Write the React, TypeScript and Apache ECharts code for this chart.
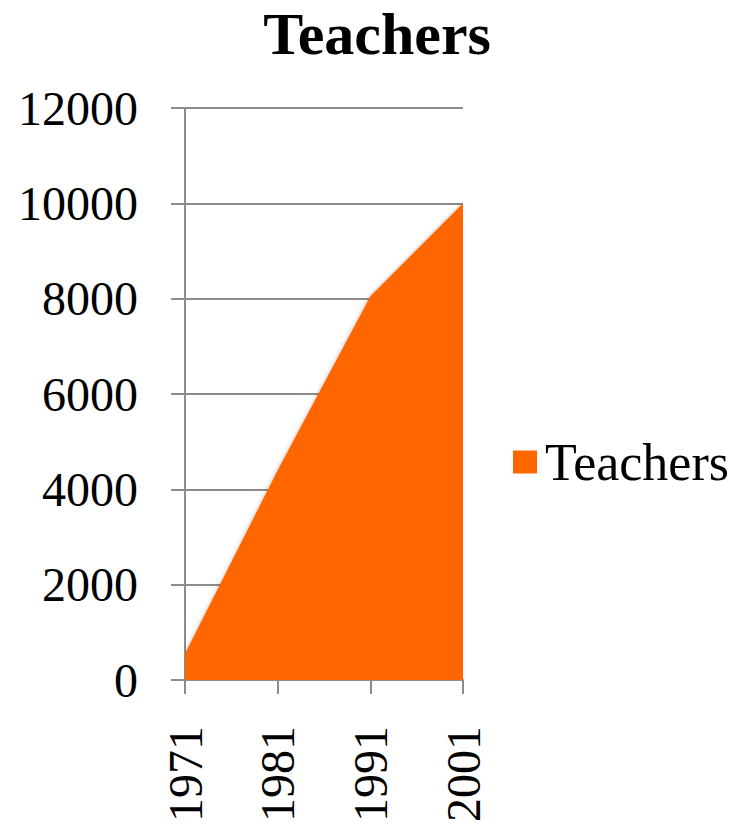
import React, { useEffect, useRef } from "react";
import * as echarts from "echarts";

const categories = ["1971", "1981", "1991", "2001"];
const teachers = [550, 4400, 8050, 10000];
const seriesName = "Teachers";
const chartTitle = "Teachers";

export default function App() {
  const ref = useRef<HTMLDivElement>(null);
  useEffect(() => {
    if (!ref.current) return;
    const chart = echarts.init(ref.current, null, { renderer: "svg" });
    const font = "'Liberation Serif', 'Times New Roman', serif";
    chart.setOption({
      animation: false,
      backgroundColor: "#ffffff",
      title: {
        text: chartTitle,
        left: 372,
        top: -1,
        textAlign: "center",
        textStyle: { fontFamily: font, fontSize: 60, fontWeight: "bold", color: "#000" },
      },
      legend: {
        data: [seriesName],
        left: 508,
        top: 431,
        itemWidth: 24,
        itemHeight: 23,
        itemGap: 10,
        icon: "rect",
        textStyle: { fontFamily: font, fontSize: 52, color: "#000", padding: [0, 0, 0, 3] },
      },
      grid: { left: 185, right: 281, top: 108, bottom: 142, containLabel: false },
      xAxis: {
        type: "category",
        data: categories,
        boundaryGap: false,
        axisLine: { show: true, lineStyle: { color: "#8c8c8c", width: 2 } },
        axisTick: { show: true, alignWithLabel: true, length: 14, lineStyle: { color: "#8c8c8c", width: 2 } },
        axisLabel: { rotate: 90, margin: 46, fontFamily: font, fontSize: 48, color: "#000" },
        splitLine: { show: false },
      },
      yAxis: {
        type: "value",
        min: 0,
        max: 12000,
        interval: 2000,
        axisLine: { show: true, lineStyle: { color: "#8c8c8c", width: 2 } },
        axisTick: { show: true, length: 14, lineStyle: { color: "#8c8c8c", width: 2 } },
        axisLabel: {
          margin: 47,
          fontFamily: font,
          fontSize: 48,
          color: "#000",
          formatter: (v: number) => String(v),
        },
        splitLine: { show: true, lineStyle: { color: "#8c8c8c", width: 2 } },
      },
      series: [
        {
          name: seriesName,
          type: "line",
          data: teachers,
          symbol: "none",
          lineStyle: { width: 0, color: "#ff6600" },
          itemStyle: { color: "#ff6600" },
          areaStyle: { color: "#ff6600", opacity: 1, shadowColor: "rgba(0,0,0,0.3)", shadowBlur: 4 },
        },
      ],
    });
    return () => chart.dispose();
  }, []);
  return <div ref={ref} style={{ width: 744, height: 825, position: "absolute", left: 0, top: 0 }} />;
}
